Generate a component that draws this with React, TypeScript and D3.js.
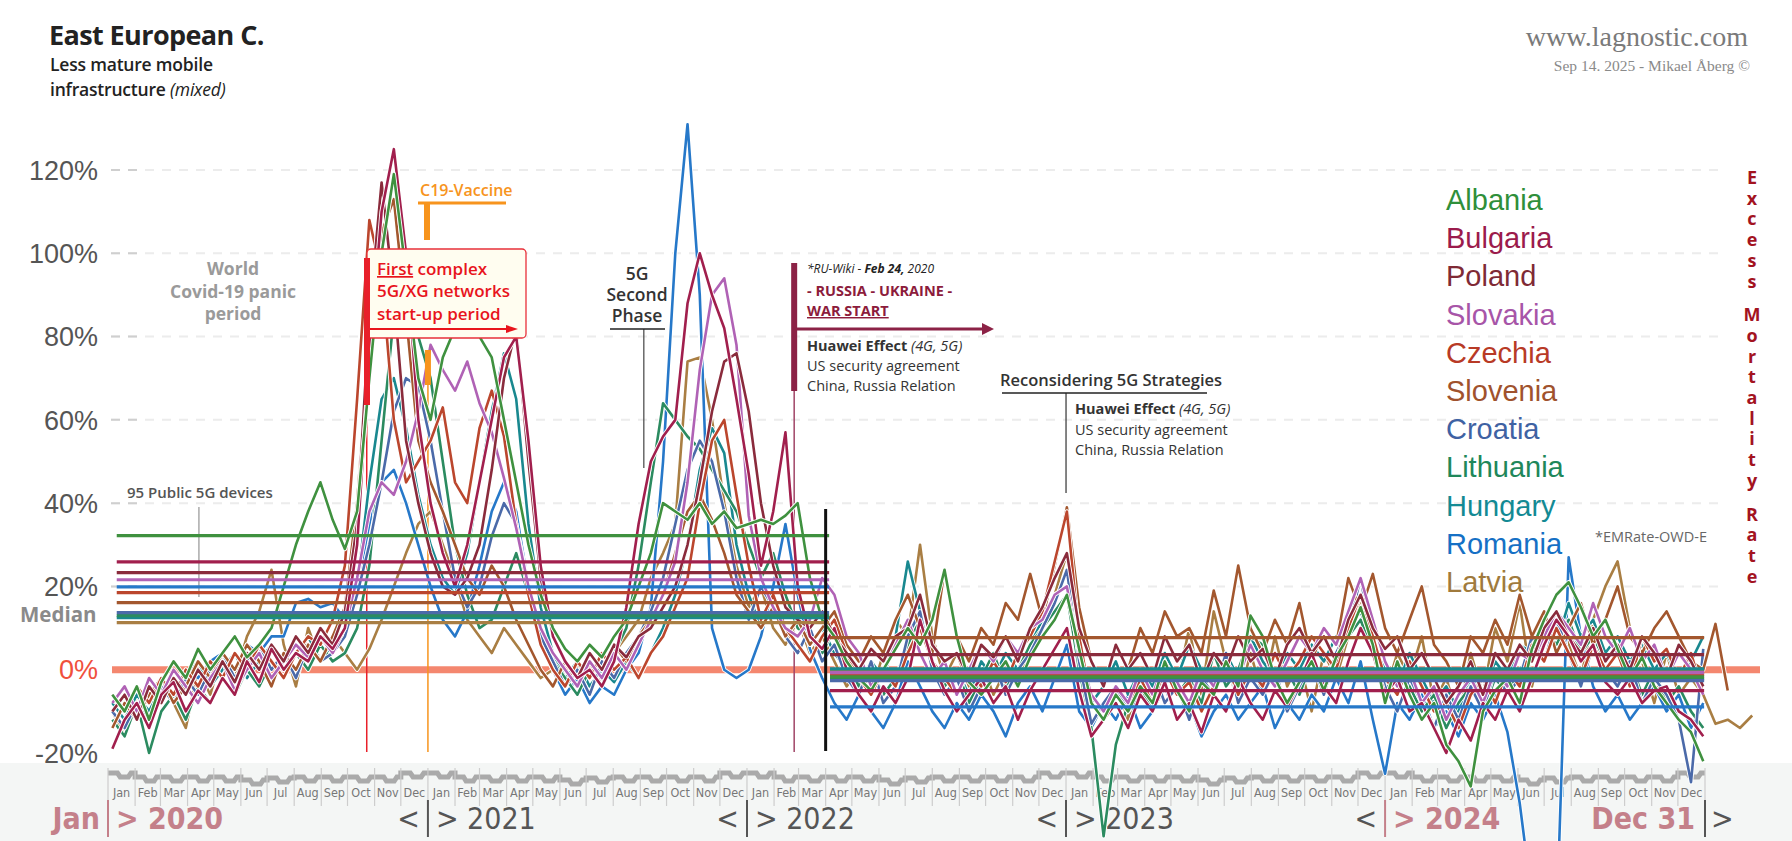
import React from "react";
import * as d3 from "d3";

// countries in legend order
const countries = ["Albania", "Bulgaria", "Poland", "Slovakia", "Czechia", "Slovenia", "Croatia", "Lithuania", "Hungary", "Romania", "Latvia"];
const lineColors = ["#3f913f", "#a11f4d", "#8a2b3c", "#b062b5", "#bb462d", "#a3572e", "#4b6aa9", "#2b8b60", "#19888f", "#2678c9", "#a97e43"];
const legendColors = ["#2f8f3a", "#9b1b4c", "#7f2a35", "#a755a8", "#b83a26", "#a0522d", "#3f62a3", "#20875a", "#138a94", "#1570c5", "#a07a3c"];

// excess mortality %, every second week from 6 Jan 2020
const firstWeek = new Date(2020, 0, 6);
const stepDays = 14;

const albania = [
  -6, -10, -4, -12, -3, 2, -2, 5, 0, 4, 8, 3, 6, 10, 20, 30, 38, 45, 36, 29, 38, 70, 100, 119, 95, 70,
  60, 75, 82, 85, 80, 75, 60, 45, 30, 18, 10, 5, 2, 6, 3, 8, 12, 20, 28, 40, 38, 36, 40, 35, 38, 34,
  35, 36, 35, 37, 40, 22, 12, 8, 2, -2, -5, 0, 5, 10, 6, 12, 24, 8, -3, -6, -2, 2, -4, 3, 8, 12,
  18, 5, -8, -12, -6, -10, -4, -8, 2, -5, -10, -3, -6, 2, -4, 13, 8, -2, -8, -3, 2, -5, 3, 8, 15, 6,
  -8, 2, -6, -12, -8, -18, -22, -28, -10, -5, -2, -8, 5, 12, 18, 21, 15, 8, 12, 5, -2, 3, -4, -8, -12, -15, -22,
];
const bulgaria = [
  -19, -12, -8, -14, -6, -3, -10, -5, -8, -2, -6, 2, -3, 5, 0, 4, 2, 8, 5, 10, 30, 75, 110, 125, 100, 60,
  40, 28, 20, 30, 45, 60, 75, 80, 55, 25, 8, 2, -2, 0, -4, 2, 15, 35, 50, 56, 60, 88, 100, 90, 82, 65,
  47, 25, 38, 57, 20, 8, 5, 10, 0, -6, -10, -4, -8, -2, 12, 2, -5, -10, -6, -2, -8, -4, -12, -5, 0, 5,
  10, -5, -16, -12, -8, -14, -6, -10, -3, -12, -8, -15, -6, -10, -2, -8, -12, -5, -9, -3, 4, -4, -8, 2, 10, 4,
  -6, -2, -10, -8, -14, -20, -12, -17, -8, -12, -5, -10, -2, 6, 12, 8, 2, 6, -3, -6, -2, -8, -5, -4, -10, -12, -16,
];
const poland = [
  -10, -6, -12, -4, -8, -2, -6, 0, -4, 2, -3, 4, 0, 6, 2, 8, 4, 10, 6, 14, 35, 85, 117, 90, 55, 40,
  28, 20, 18, 22, 30, 48, 70, 82, 50, 22, 8, 2, -2, 4, 0, 6, 3, 8, 10, 15, 20, 30, 45, 62, 74, 76,
  62, 40, 25, 15, 12, 10, 14, 8, 4, 0, 5, 2, 8, 10, 18, 6, 2, 4, -2, 6, 3, 8, 2, 10, 15, 22,
  28, 10, 2, -4, 6, 0, 4, -2, 8, 2, 6, -3, 4, 0, 8, 2, 5, -2, 6, 10, 4, 8, 2, 12, 18, 10,
  5, 8, 0, 4, -2, -8, -4, 2, -6, 4, 0, 6, 2, 10, 14, 8, 4, 10, 2, 6, 0, 8, 4, -2, 6, 2, -4,
];
const slovakia = [
  -8, -4, -10, -2, -6, 0, -4, -8, -2, 2, -5, 0, 4, -2, 2, 6, 3, 8, 4, 10, 22, 38, 45, 42, 50, 62,
  78, 72, 67, 74, 64, 57, 46, 34, 20, 10, 4, 0, -4, 2, -2, 4, 0, 6, 12, 18, 26, 45, 72, 90, 94, 78,
  37, 22, 15, 10, 8, 12, 22, 18, 8, 4, -4, 0, 6, 12, 4, -2, 2, -6, 0, 6, 2, 8, 4, 10, 12, 18,
  20, 4, -6, -10, -4, -8, 0, -6, 2, -3, -8, 0, -4, 2, -2, 6, 0, -4, 2, 8, 4, 10, 6, 14, 22, 12,
  2, -4, 0, -8, -4, -12, -6, -2, -8, 0, -4, 4, 2, 8, 14, 10, 6, 16, 8, 4, 10, 2, 6, -2, 4, 0, -6,
];
const czechia = [
  -6, -10, -4, -8, -2, -6, 0, -4, 2, -2, 4, 0, 6, 2, -2, 4, 8, 6, 12, 25, 65, 108, 95, 60, 45, 50,
  55, 63, 45, 40, 58, 67, 56, 35, 18, 6, 0, -4, 2, -2, 4, 0, 3, -2, 4, 8, 15, 22, 40, 55, 60, 42,
  25, 12, 18, 10, 6, 2, 8, 12, 4, -2, -6, 0, -4, 4, 10, 2, -2, -6, 0, -4, 2, -3, 4, 8, 14, 26,
  38, 8, -8, -12, -6, -10, -2, -8, 0, -6, -3, -10, -4, 2, -6, 0, -4, 4, -2, 2, 8, 4, 0, 10, 18, 8,
  -2, -6, 2, -4, -10, -8, -14, -6, -2, -8, 0, -4, 6, 2, 10, 4, -2, 6, 0, 4, -4, 8, 2, 5, -2, 4, -6,
];
const slovenia = [
  -14, -8, -12, -6, -2, -8, -4, 2, -2, 4, 0, 6, 2, -4, 4, 0, 6, 2, 8, 15, 40, 80, 105, 113, 85, 55,
  45, 38, 30, 22, 18, 25, 20, 12, 6, 0, -4, 2, -2, 4, 0, 6, 2, 8, 12, 18, 28, 38, 42, 36, 28, 18,
  14, 10, 15, 8, 12, 6, 10, 14, 6, 2, 8, 4, 12, 18, 10, 4, 24, 8, 2, 10, 6, 16, 12, 23, 12, 25,
  39, 15, 2, -4, 6, 0, 10, 4, 14, 8, 10, 4, 19, 8, 25, 10, 4, 12, 6, 16, 2, 10, 6, 22, 14, 23,
  10, 4, 12, 20, 6, 2, -4, 8, 4, 12, 6, 18, 8, 14, 4, 10, 16, 6, 12, 20, 8, 4, 10, 14, 8, 2, 0, 11, -5,
];
const croatia = [
  -10, -14, -8, -12, -4, -8, -2, -6, 0, 4, -2, 2, 6, 0, 4, -2, 6, 2, 4, 8, 18, 30, 45, 62, 70, 68,
  55, 38, 22, 15, 20, 32, 40, 35, 20, 8, 2, -4, 0, -6, 2, -2, 4, 8, 14, 22, 35, 48, 55, 50, 38, 22,
  12, 20, 15, 8, 4, 10, 2, 6, -2, -6, 2, -8, -4, 8, 14, 0, -6, -2, -10, -4, 2, -6, 0, 4, 10, 16,
  24, 2, -13, -8, -4, -10, -6, 0, -8, -4, -12, -2, -6, 4, -8, -2, -6, 0, -10, -4, 2, -6, 4, 10, 22, 6,
  -4, -10, -2, -8, -14, -6, -12, -4, -10, 0, -6, -2, 8, 2, 12, 4, -4, 6, 0, -4, 2, -8, -2, -6, -12, -27, 5,
];
const lithuania = [
  -12, -16, -8, -20, -10, -6, -12, -4, -8, -2, -6, 0, -4, 2, -2, 4, 0, 6, 2, 4, 10, 25, 55, 85, 95, 80,
  70, 50, 30, 18, 10, 12, 20, 28, 18, 8, 2, -2, -6, 0, -4, 4, 10, 25, 45, 64, 60, 56, 53, 48, 43, 38,
  30, 22, 28, 18, 10, 8, 4, 10, 2, -4, 0, -6, -2, 6, 12, 2, -4, 0, -8, -2, 4, -4, 0, 6, 10, 14,
  18, 0, -14, -40, -18, -8, -4, -10, 0, -6, -2, -8, 4, -4, 0, 8, 6, -4, 0, -6, 2, -4, 4, 8, 12, 4,
  -6, 2, -4, -10, -6, -14, -8, -4, -10, -2, -6, 0, 4, 10, 6, 12, 4, 8, 0, -4, 2, -6, 0, -8, -4, -10, -14,
];
const hungary = [
  -8, -12, -6, -10, -4, -8, -2, 2, -4, 0, 4, -2, 2, 6, 0, 4, 8, 2, 6, 10, 20, 45, 65, 70, 58, 42,
  30, 22, 18, 28, 45, 62, 76, 65, 35, 15, 4, -2, 2, -4, 0, -3, 2, -2, 4, 10, 18, 30, 48, 58, 52, 30,
  18, 10, 15, 8, 12, 6, 10, 4, 0, -4, 2, -2, 8, 26, 14, 2, -4, 0, -6, 2, -2, 4, 0, 6, 12, 18,
  20, 4, -8, -4, 2, -6, 0, -4, 4, -2, 6, 0, -4, 4, -2, 8, 2, -2, 4, 0, 6, 2, 8, 10, 14, 6,
  0, -4, 4, -2, -8, -4, -10, -2, -6, 2, -2, 6, 4, 10, 6, 16, 8, 12, 4, 8, 2, 6, 0, 4, -2, 2, 8,
];
const romania = [
  -6, -10, -4, -8, -2, -6, 0, -2, 2, 4, 0, 6, 4, 8, 8, 16, 17, 15, 16, 12, 20, 35, 45, 48, 40, 30,
  20, 12, 8, 14, 25, 38, 45, 38, 20, 6, 0, -6, -2, -8, -4, -6, 0, 4, 15, 50, 100, 131, 90, 10, 0, -2,
  0, 8, 20, 35, 18, 5, -2, -8, -12, -6, -10, -14, -8, 2, -4, -10, -14, -8, -12, -6, -10, -16, -8, -4, -10, -2,
  6, -10, -14, -8, -12, -6, -14, -10, -4, -12, -8, -16, -10, -6, -12, -8, -4, -14, -8, -12, -6, -10, -2, -8, 2, -12,
  -25, -8, -12, -6, -14, -10, -16, -8, -12, -6, -15, -32, -55, -70, -62, 27, 8, -4, -10, -6, -12, -8, -4, -10, -6, -14, -8,
];
const latvia = [
  -10, -16, -6, -12, -2, -8, -14, 0, -6, 4, -2, 8, 14, 24, 6, -4, 10, 2, 8, 4, 0, 5, 12, 20, 28, 35,
  38, 30, 22, 12, 8, 4, 10, 6, 2, -2, 0, -6, -2, 2, -4, 4, 8, 12, 22, 28, 35, 74, 75, 60, 40, 25,
  15, 20, 10, 6, 12, 4, 8, 2, -4, 0, -6, 4, 12, 8, 30, 8, -2, 4, -4, 2, -6, 0, -4, 6, 12, 18,
  28, 6, -6, -10, -4, -12, -2, -8, 4, -4, 10, -6, 14, 2, -8, 4, -6, 8, -4, 2, -10, 4, -2, 8, 16, 6,
  -6, 4, -2, 8, -8, -2, -12, 4, -6, 10, 2, 16, -4, 8, 14, 6, -2, 12, 20, 26, 10, 2, -8, 4, -6, -2, -6, -13, -12, -14, -11,
];
const seriesValues = [albania, bulgaria, poland, slovakia, czechia, slovenia, croatia, lithuania, hungary, romania, latvia];

// medians before and after the Apr 2022 split
const medianBefore = [32.2, 25.9, 23.3, 21.6, 18.5, 16.1, 13.7, 13.0, 12.5, 19.9, 11.3];
const medianAfter = [-1.7, -5.0, 3.6, -0.7, -1.2, 7.7, -2.6, -2.2, 0.2, -8.9, -0.3];
const medianPeriods = [
  [new Date(2020, 0, 11), new Date(2022, 3, 5)],
  [new Date(2022, 3, 6), new Date(2024, 11, 31)],
];

const yTicks = [120, 100, 80, 60, 40, 20, 0, -20];
const gridTicks = [120, 100, 80, 60, 40, 20];
const monthNames = ["Jan", "Feb", "Mar", "Apr", "May", "Jun", "Jul", "Aug", "Sep", "Oct", "Nov", "Dec"];
const stripLift = [-4, 0, 0, 0, 0, 3, 1, 0, 0, 0, 0, -4];
const years = [2020, 2021, 2022, 2023, 2024];
const verticalWords = ["Excess", "Mortality", "Rate"];

const sans = "'Open Sans', 'Noto Sans', sans-serif";
const arial = "'Liberation Sans', Arial, sans-serif";
const narrow = "'Liberation Sans Narrow', 'DejaVu Sans Condensed', sans-serif";
const serif = "'Liberation Serif', 'DejaVu Serif', serif";
const pink = "#c4808a";

export default function App() {
  const x = d3.scaleTime().domain([new Date(2020, 0, 1), new Date(2025, 0, 1)]).range([108, 1705]);
  const y = d3.scaleLinear().domain([-20, 120]).range([753, 170]);

  const line = d3
    .line<number>()
    .x((_d, i) => x(d3.timeDay.offset(firstWeek, i * stepDays)))
    .y((d) => y(d));

  const months = d3.timeMonth.range(new Date(2020, 0, 1), new Date(2025, 0, 1));

  // stepped gray strip line
  const stripPts: [number, number][] = [];
  months.forEach((m) => {
    const x0 = x(m);
    const x1 = x(d3.timeMonth.offset(m, 1));
    const w = x1 - x0;
    const base = 777 + stripLift[m.getMonth()];
    stripPts.push([x0, base], [x0 + w * 0.35, base], [x0 + w * 0.45, base + 4], [x0 + w * 0.75, base + 4], [x0 + w * 0.85, base], [x1, base]);
  });
  const stripPath = d3.line()(stripPts) || "";

  const xRed = x(new Date(2020, 9, 23));
  const xOrange = x(new Date(2021, 0, 1));
  const xWar = x(new Date(2022, 1, 24));
  const xSplit = x(new Date(2022, 3, 1));
  const x5G = x(new Date(2021, 8, 5));
  const xDevices = x(new Date(2020, 3, 14));
  const xRecon = x(new Date(2023, 0, 1));

  // vertical letters
  const letters: { ch: string; yy: number }[] = [];
  let ly = 184;
  verticalWords.forEach((w, wi) => {
    if (wi > 0) ly += 13;
    w.split("").forEach((ch) => {
      letters.push({ ch, yy: ly });
      ly += 20.7;
    });
  });

  const order = d3.range(countries.length).reverse();

  return (
    <svg width={1792} height={841} style={{ position: "absolute", top: 0, left: 0, background: "#fff" }}>
      {/* title */}
      <text x={49} y={45} fontFamily={sans} fontWeight={700} fontSize={27} fill="#222" letterSpacing={-0.6}>
        East European C.
      </text>
      <text x={50} y={71} fontFamily={sans} fontWeight={600} fontSize={17.5} fill="#222" letterSpacing={-0.2}>
        Less mature mobile
      </text>
      <text x={50} y={96} fontFamily={sans} fontWeight={600} fontSize={17.5} fill="#222" letterSpacing={-0.2}>
        infrastructure <tspan fontStyle="italic" fontWeight={400}>(mixed)</tspan>
      </text>
      <text x={1748} y={46} textAnchor="end" fontFamily={serif} fontSize={28} fill="#7a7a7a">
        www.lagnostic.com
      </text>
      <text x={1750} y={71} textAnchor="end" fontFamily={serif} fontSize={15.5} fill="#8a8a8a">
        Sep 14. 2025 - Mikael Åberg ©
      </text>

      {/* grid */}
      {gridTicks.map((t) => (
        <g key={t}>
          <line x1={111} x2={1720} y1={y(t)} y2={y(t)} stroke="#ececec" strokeWidth={2} strokeDasharray="9 8" />
          <line x1={111} x2={145} y1={y(t)} y2={y(t)} stroke="#cfcfcf" strokeWidth={2} strokeDasharray="9 8" />
        </g>
      ))}
      {yTicks.map((t) => (
        <text key={t} x={98} y={y(t)} dy="0.36em" textAnchor="end" fontFamily={arial} fontSize={27} fill={t === 0 ? "#f0503c" : "#555"}>
          {t}%
        </text>
      ))}

      {/* month strip */}
      <rect x={0} y={763} width={1792} height={78} fill="#f4f6f5" />
      <path d={stripPath} fill="none" stroke="#aaa" strokeWidth={5} />
      {months.concat([new Date(2025, 0, 1)]).map((m, i) => (
        <line key={"t" + i} x1={x(m)} x2={x(m)} y1={768} y2={806} stroke="#cdcdcd" strokeWidth={1.2} />
      ))}
      {months.map((m, i) => (
        <text
          key={"m" + i}
          x={(x(m) + x(d3.timeMonth.offset(m, 1))) / 2}
          y={797}
          textAnchor="middle"
          fontFamily={narrow}
          fontSize={12.5}
          fill="#777"
        >
          {monthNames[m.getMonth()]}
        </text>
      ))}
      {years.map((yr) => {
        const xx = x(new Date(yr, 0, 1));
        const strong = yr === 2020 || yr === 2024;
        return (
          <g key={yr} fontFamily={narrow} fontSize={30}>
            {yr === 2020 ? (
              <text x={xx - 8} y={829} textAnchor="end" fontWeight={700} fill={pink}>
                Jan
              </text>
            ) : (
              <text x={xx - 8} y={829} textAnchor="end" fill="#555">
                {"<"}
              </text>
            )}
            <line x1={xx} x2={xx} y1={800} y2={837} stroke={strong ? pink : "#555"} strokeWidth={2} />
            <text x={xx + 8} y={829} fontWeight={strong ? 700 : 400} fill={strong ? pink : "#555"}>
              {"> " + yr}
            </text>
          </g>
        );
      })}
      <g fontFamily={narrow} fontSize={30}>
        <text x={x(new Date(2025, 0, 1)) - 10} y={829} textAnchor="end" fontWeight={700} fill={pink}>
          Dec 31
        </text>
        <line x1={x(new Date(2025, 0, 1))} x2={x(new Date(2025, 0, 1))} y1={800} y2={837} stroke="#555" strokeWidth={2} />
        <text x={x(new Date(2025, 0, 1)) + 6} y={829} fill="#555">
          {">"}
        </text>
      </g>

      {/* zero line */}
      <line x1={112} x2={1760} y1={y(0)} y2={y(0)} stroke="#f4876f" strokeWidth={7} />

      {/* event markers (below lines) */}
      <line x1={xRed} x2={xRed} y1={405} y2={752} stroke="#e8202a" strokeWidth={1.5} />
      <line x1={xOrange} x2={xOrange} y1={385} y2={752} stroke="#f7941d" strokeWidth={1.5} />
      <line x1={xWar} x2={xWar} y1={391} y2={752} stroke="#a04466" strokeWidth={1.5} />
      <line x1={x5G} x2={x5G} y1={329} y2={468} stroke="#444" strokeWidth={1.2} />
      <line x1={xDevices} x2={xDevices} y1={507} y2={597} stroke="#aaa" strokeWidth={1.5} />
      <line x1={xRecon} x2={xRecon} y1={393} y2={493} stroke="#333" strokeWidth={1.2} />

      {/* series */}
      {order.map((k) => (
        <g key={"s" + k}>
          <path d={line(seriesValues[k]) || ""} fill="none" stroke="#fff" strokeWidth={4.4} strokeLinejoin="round" />
          <path d={line(seriesValues[k]) || ""} fill="none" stroke={lineColors[k]} strokeWidth={2.6} strokeLinejoin="round" />
        </g>
      ))}

      {/* medians */}
      {order.map((k) => (
        <g key={"md" + k}>
          <line x1={x(medianPeriods[0][0])} x2={x(medianPeriods[0][1])} y1={y(medianBefore[k])} y2={y(medianBefore[k])} stroke={lineColors[k]} strokeWidth={3.2} />
          <line x1={x(medianPeriods[1][0])} x2={x(medianPeriods[1][1])} y1={y(medianAfter[k])} y2={y(medianAfter[k])} stroke={lineColors[k]} strokeWidth={3.2} />
        </g>
      ))}
      <text x={20} y={622} fontFamily={sans} fontWeight={700} fontSize={20.5} fill="#8a8a8a">
        Median
      </text>
      <line x1={xSplit} x2={xSplit} y1={509} y2={751} stroke="#111" strokeWidth={3} />

      {/* annotations */}
      <g fontFamily={sans} fontWeight={700} fontSize={17.5} fill="#9a9a9a" textAnchor="middle">
        <text x={233} y={275}>World</text>
        <text x={233} y={298}>Covid-19 panic</text>
        <text x={233} y={320}>period</text>
      </g>
      <text x={127} y={498} fontFamily={sans} fontWeight={600} fontSize={15} fill="#555">
        95 Public 5G devices
      </text>

      <rect x={367} y={249} width={159} height={89} rx={4} fill="#fffdf0" stroke="#e8303a" strokeWidth={1.3} />
      <rect x={364} y={258} width={6} height={147} fill="#e8202a" />
      <g fontFamily={sans} fontWeight={600} fontSize={17} fill="#e8141c">
        <text x={377} y={275}>
          <tspan textDecoration="underline">First</tspan> complex
        </text>
        <text x={377} y={297}>5G/XG networks</text>
        <text x={377} y={320}>start-up period</text>
      </g>
      <line x1={370} x2={508} y1={329} y2={329} stroke="#e8141c" strokeWidth={2} />
      <path d="M506,325 L518,329 L506,333 Z" fill="#e8141c" />

      <text x={420} y={196} fontFamily={sans} fontWeight={600} fontSize={16} fill="#f7941d">
        C19-Vaccine
      </text>
      <line x1={418} x2={506} y1={203} y2={203} stroke="#f7941d" strokeWidth={3} />
      <rect x={424} y={203} width={6} height={37} fill="#f7941d" />
      <rect x={xOrange - 3} y={350} width={6} height={35} fill="#f7941d" />

      <g fontFamily={sans} fontWeight={600} fontSize={17.5} fill="#333" textAnchor="middle">
        <text x={637} y={280}>5G</text>
        <text x={637} y={301}>Second</text>
        <text x={637} y={322}>Phase</text>
      </g>
      <line x1={610} x2={665} y1={329} y2={329} stroke="#222" strokeWidth={1.5} />

      <rect x={xWar - 3} y={263} width={6} height={128} fill="#8c2246" />
      <line x1={xWar + 2} x2={985} y1={329} y2={329} stroke="#8c2246" strokeWidth={3} />
      <path d="M982,323 L994,329 L982,335 Z" fill="#8c2246" />
      <text x={807} y={273} fontFamily={sans} fontStyle="italic" fontSize={12} fill="#222">
        *RU-Wiki  - <tspan fontWeight={700}>Feb 24,</tspan> 2020
      </text>
      <g fontFamily={sans} fontWeight={700} fontSize={14.5} fill="#8c1c3c">
        <text x={807} y={296}>- RUSSIA - UKRAINE -</text>
        <text x={807} y={316} textDecoration="underline">WAR START</text>
      </g>
      <g fontFamily={sans} fontSize={14.5} fill="#333">
        <text x={807} y={351}>
          <tspan fontWeight={700}>Huawei Effect</tspan> <tspan fontStyle="italic">(4G, 5G)</tspan>
        </text>
        <text x={807} y={371}>US security agreement</text>
        <text x={807} y={391}>China, Russia Relation</text>
      </g>

      <text x={1000} y={386} fontFamily={sans} fontWeight={600} fontSize={16.5} fill="#333">
        Reconsidering 5G Strategies
      </text>
      <line x1={1002} x2={1207} y1={393} y2={393} stroke="#222" strokeWidth={1.5} />
      <g fontFamily={sans} fontSize={14.5} fill="#333">
        <text x={1075} y={414}>
          <tspan fontWeight={700}>Huawei Effect</tspan> <tspan fontStyle="italic">(4G, 5G)</tspan>
        </text>
        <text x={1075} y={435}>US security agreement</text>
        <text x={1075} y={455}>China, Russia Relation</text>
      </g>

      {/* legend */}
      {countries.map((c, k) => (
        <text key={c} x={1446} y={210 + k * 38.2} fontFamily={arial} fontSize={29} fill={legendColors[k]}>
          {c}
        </text>
      ))}
      <text x={1595} y={542} fontFamily={sans} fontSize={14.5} fill="#666">
        *EMRate-OWD-E
      </text>
      {letters.map((l, i) => (
        <text key={i} x={1752} y={l.yy} textAnchor="middle" fontFamily={sans} fontWeight={700} fontSize={18} fill="#a3131f">
          {l.ch}
        </text>
      ))}
    </svg>
  );
}
